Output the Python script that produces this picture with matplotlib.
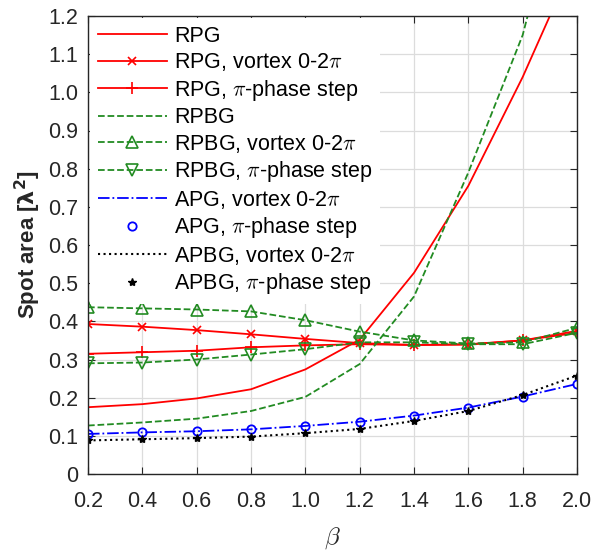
import numpy as np
import matplotlib.pyplot as plt

beta = [0.2, 0.4, 0.6, 0.8, 1.0, 1.2, 1.4, 1.6, 1.8, 2.0]

rpg = [0.175, 0.183, 0.198, 0.222, 0.274, 0.352, 0.527, 0.755, 1.04, 1.36]
rpg_vortex = [0.393, 0.386, 0.377, 0.366, 0.354, 0.343, 0.338, 0.339, 0.350, 0.375]
rpg_step = [0.315, 0.319, 0.323, 0.332, 0.337, 0.340, 0.338, 0.340, 0.350, 0.370]
rpbg = [0.127, 0.135, 0.145, 0.165, 0.202, 0.288, 0.465, 0.79, 1.15, 1.7]
rpbg_vortex = [0.437, 0.434, 0.431, 0.426, 0.403, 0.373, 0.350, 0.342, 0.345, 0.383]
rpbg_step = [0.290, 0.292, 0.300, 0.313, 0.327, 0.345, 0.345, 0.340, 0.340, 0.370]
apg_vortex = [0.105, 0.109, 0.112, 0.117, 0.126, 0.137, 0.153, 0.174, 0.203, 0.236]
apg_step = [0.105, 0.109, 0.112, 0.117, 0.126, 0.137, 0.153, 0.174, 0.203, 0.236]
apbg_vortex = [0.088, 0.091, 0.094, 0.098, 0.107, 0.118, 0.139, 0.165, 0.207, 0.258]
apbg_step = [0.088, 0.091, 0.094, 0.098, 0.107, 0.118, 0.139, 0.165, 0.207, 0.258]

green = '#228b22'

plt.rcParams['font.family'] = ['Liberation Sans', 'DejaVu Sans']
plt.rcParams['mathtext.fontset'] = 'cm'

fig = plt.figure(figsize=(6.01, 5.53), dpi=100)
ax = fig.add_axes([88/601, 1-474/553, (577-88)/601, (474-16)/553])

ax.plot(beta, rpg, '-', color='red', lw=1.3, label='RPG')
ax.plot(beta, rpg_vortex, '-x', color='red', lw=1.3, ms=6, mew=1.2, label=r'RPG, vortex 0-2$\pi$')
ax.plot(beta, rpg_step, '-+', color='red', lw=1.3, ms=9, mew=1.2, label=r'RPG, $\pi$-phase step')
ax.plot(beta, rpbg, '--', color=green, lw=1.3, label='RPBG')
ax.plot(beta, rpbg_vortex, '--^', color=green, lw=1.3, ms=8, mfc='none', mew=1.2, label=r'RPBG, vortex 0-2$\pi$')
ax.plot(beta, rpbg_step, '--v', color=green, lw=1.3, ms=8, mfc='none', mew=1.2, label=r'RPBG, $\pi$-phase step')
ax.plot(beta, apg_vortex, '-.', color='blue', lw=1.3, label=r'APG, vortex 0-2$\pi$')
ax.plot(beta, apg_step, 'o', color='blue', ms=6, mfc='none', mew=1.3, label=r'APG, $\pi$-phase step')
ax.plot(beta, apbg_vortex, ':', color='black', lw=1.5, label=r'APBG, vortex 0-2$\pi$')
ax.plot(beta, apbg_step, '*', color='black', ms=6, label=r'APBG, $\pi$-phase step')

ax.set_xlim(0.2, 2.0)
ax.set_ylim(0, 1.2)
ax.set_xticks(np.arange(0.2, 2.01, 0.2))
ax.set_yticks(np.arange(0, 1.21, 0.1))
ax.set_xticklabels(['0.2', '0.4', '0.6', '0.8', '1.0', '1.2', '1.4', '1.6', '1.8', '2.0'])
ax.set_yticklabels(['0', '0.1', '0.2', '0.3', '0.4', '0.5', '0.6', '0.7', '0.8', '0.9', '1.0', '1.1', '1.2'])
ax.tick_params(labelsize=15.5, colors='#262626', direction='in', top=True, right=True, length=5)
ax.tick_params(axis='x', pad=12)
ax.tick_params(axis='y', pad=7)
ax.grid(True, color='#dcdcdc', lw=0.9)
ax.set_axisbelow(True)
for s in ax.spines.values():
    s.set_color('#262626')
    s.set_linewidth(1.0)

ax.set_xlabel(r'$\beta$', fontsize=18, color='#262626', labelpad=10)
ax.set_ylabel(r'Spot area [$\mathbf{\lambda^2}$]', fontsize=16, fontweight='bold', color='#262626',
              labelpad=4, math_fontfamily='dejavusans')

leg = ax.legend(loc='upper left', fontsize=15.5, frameon=True, framealpha=1, edgecolor='none',
                handlelength=3.2, handletextpad=0.35, labelspacing=0.21, borderaxespad=0.1,
                borderpad=0.35, fancybox=False)

fig.savefig('out.png', dpi=100)
